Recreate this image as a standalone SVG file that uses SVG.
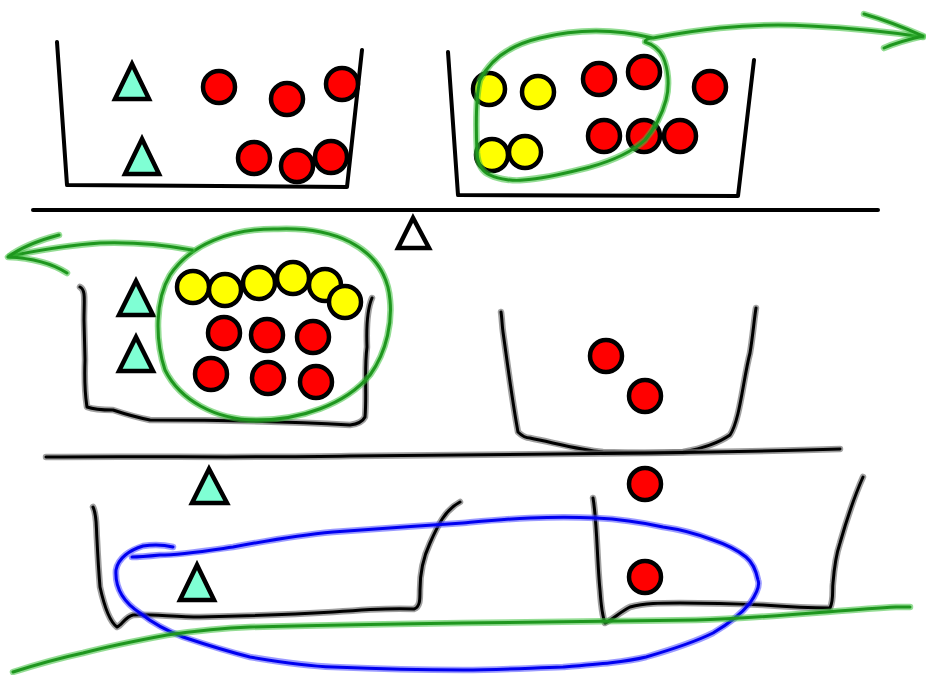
<svg xmlns="http://www.w3.org/2000/svg" width="926" height="675" viewBox="0 0 926 675">
<style>
.bk{fill:none;stroke:#000;stroke-width:4;stroke-linecap:round;stroke-linejoin:round}
.sk{fill:none;stroke:#000;stroke-width:3;stroke-linecap:round;stroke-linejoin:round}
.skh{fill:none;stroke:#777;stroke-opacity:.7;stroke-width:6.5;stroke-linecap:round;stroke-linejoin:round}
.g{fill:none;stroke:#1e961e;stroke-width:3;stroke-linecap:round;stroke-linejoin:round}
.gh{fill:none;stroke:#3cbf3c;stroke-opacity:.55;stroke-width:6.5;stroke-linecap:round;stroke-linejoin:round}
.b{fill:none;stroke:#0000f0;stroke-width:3;stroke-linecap:round;stroke-linejoin:round}
.bh{fill:none;stroke:#4848ff;stroke-opacity:.55;stroke-width:6.5;stroke-linecap:round;stroke-linejoin:round}
.r{fill:#ff0000;stroke:#000;stroke-width:4.5}
.y{fill:#ffff00;stroke:#000;stroke-width:4.5}
.t{fill:#7fffd4;stroke:#000;stroke-width:4.5;stroke-linejoin:miter}
</style>
<g id="bucket-top-left">
<path class="bk" d="M57,42 L67,185 L347,187 L362,50"/>
<polygon class="t" points="132,64 115,99 149,99"/>
<polygon class="t" points="142,139 125,174 159,174"/>
<circle class="r" cx="219" cy="87" r="16"/>
<circle class="r" cx="287" cy="99" r="16"/>
<circle class="r" cx="342" cy="84" r="16"/>
<circle class="r" cx="254" cy="158" r="16"/>
<circle class="r" cx="297" cy="166" r="16"/>
<circle class="r" cx="331" cy="157" r="16"/>
</g>
<g id="bucket-top-right">
<path class="bk" d="M448,52 L458,195 L738,196 L754,60"/>
<circle class="y" cx="489" cy="89" r="16"/>
<circle class="y" cx="538" cy="92" r="16"/>
<circle class="y" cx="492" cy="155" r="16"/>
<circle class="y" cx="525" cy="152" r="16"/>
<circle class="r" cx="599" cy="79" r="16"/>
<circle class="r" cx="644" cy="72" r="16"/>
<circle class="r" cx="710" cy="87" r="16"/>
<circle class="r" cx="604" cy="136" r="16"/>
<circle class="r" cx="644" cy="136" r="16"/>
<circle class="r" cx="680" cy="136" r="16"/>
</g>
<g id="beam-top">
<line class="bk" x1="33" y1="210" x2="878" y2="210"/>
<polygon points="413,218 398,248 429,248" fill="#fff" stroke="#000" stroke-width="4.5"/>
</g>
<g id="bucket-middle-left">
<path class="skh" d="M80,287 C86,290 84,300 84,320 L85,360 C84,390 86,400 87,407 C95,410 105,410 113,410 C125,414 140,418 150,420 C200,420 280,421 350,425 C358,424 363,421 365,417 C367,395 364,370 367,347 C366,320 369,305 372,298"/>
<path class="sk" d="M80,287 C86,290 84,300 84,320 L85,360 C84,390 86,400 87,407 C95,410 105,410 113,410 C125,414 140,418 150,420 C200,420 280,421 350,425 C358,424 363,421 365,417 C367,395 364,370 367,347 C366,320 369,305 372,298"/>
<polygon class="t" points="136,281 119,315 153,315"/>
<polygon class="t" points="136,337 119,371 153,371"/>
<circle class="y" cx="193" cy="287" r="16"/>
<circle class="y" cx="225" cy="290" r="16"/>
<circle class="y" cx="259" cy="283" r="16"/>
<circle class="y" cx="293" cy="278" r="16"/>
<circle class="y" cx="325" cy="285" r="16"/>
<circle class="y" cx="345" cy="302" r="16"/>
<circle class="r" cx="224" cy="333" r="16"/>
<circle class="r" cx="267" cy="335" r="16"/>
<circle class="r" cx="313" cy="337" r="16"/>
<circle class="r" cx="211" cy="374" r="16"/>
<circle class="r" cx="268" cy="378" r="16"/>
<circle class="r" cx="316" cy="382" r="16"/>
</g>
<g id="bucket-middle-right">
<path class="skh" d="M501,312 C502,318 502,325 503,332 C507,360 512,400 518,432 C522,436 526,438 530,438 C555,443 580,450 603,452 C630,453 660,453 683,452 C705,448 720,442 730,435 C740,420 743,380 750,353 C753,335 754,320 756,308"/>
<path class="sk" d="M501,312 C502,318 502,325 503,332 C507,360 512,400 518,432 C522,436 526,438 530,438 C555,443 580,450 603,452 C630,453 660,453 683,452 C705,448 720,442 730,435 C740,420 743,380 750,353 C753,335 754,320 756,308"/>
<circle class="r" cx="606" cy="356" r="16"/>
<circle class="r" cx="645" cy="396" r="16"/>
</g>
<g id="beam-middle">
<path class="skh" d="M46,457 C150,456 250,458 350,456 C450,455 550,454 650,453 C720,452 780,451 840,449"/>
<path class="sk" d="M46,457 C150,456 250,458 350,456 C450,455 550,454 650,453 C720,452 780,451 840,449"/>
<polygon class="t" points="209,469 192,503 227,503"/>
</g>
<g id="bucket-bottom-left">
<path class="skh" d="M93,507 C97,515 96,525 97,540 C98,560 99,575 100,587 C104,605 110,622 117,627 C122,625 125,617 133,615 C150,614 175,617 200,617 C250,616 300,614 333,612 C370,609 395,608 414,609 C420,607 420,600 420,590 C420,575 422,560 430,543 C438,525 445,510 460,502"/>
<path class="sk" d="M93,507 C97,515 96,525 97,540 C98,560 99,575 100,587 C104,605 110,622 117,627 C122,625 125,617 133,615 C150,614 175,617 200,617 C250,616 300,614 333,612 C370,609 395,608 414,609 C420,607 420,600 420,590 C420,575 422,560 430,543 C438,525 445,510 460,502"/>
<polygon class="t" points="197,565 180,600 214,600"/>
</g>
<g id="bucket-bottom-right">
<path class="skh" d="M593,498 C597,520 597,560 600,590 C601,605 602,615 605,623 C612,620 620,612 630,607 C645,603 660,603 680,603 C710,603 740,604 763,605 C790,607 815,608 830,608 C834,600 832,590 833,583 C834,570 836,555 840,543 C848,515 855,495 863,477"/>
<path class="sk" d="M593,498 C597,520 597,560 600,590 C601,605 602,615 605,623 C612,620 620,612 630,607 C645,603 660,603 680,603 C710,603 740,604 763,605 C790,607 815,608 830,608 C834,600 832,590 833,583 C834,570 836,555 840,543 C848,515 855,495 863,477"/>
<circle class="r" cx="645" cy="484" r="16"/>
<circle class="r" cx="645" cy="577" r="16"/>
</g>
<g id="connectors">
<g id="green-loop-top">
<path class="gh" d="M653,38 C620,30 580,28 540,38 C510,45 490,60 480,80 C475,100 476,130 477,153 C478,165 482,172 490,175 C500,180 515,181 523,180 C550,178 570,172 590,167 C615,160 632,152 645,140 C655,128 662,115 666,100 C670,85 668,68 663,57 C660,50 652,44 645,42 C645,40 648,38 653,38 C680,33 700,30 720,28 C750,25 780,24 810,26 C850,28 890,32 923,37"/>
<path class="g" d="M653,38 C620,30 580,28 540,38 C510,45 490,60 480,80 C475,100 476,130 477,153 C478,165 482,172 490,175 C500,180 515,181 523,180 C550,178 570,172 590,167 C615,160 632,152 645,140 C655,128 662,115 666,100 C670,85 668,68 663,57 C660,50 652,44 645,42 C645,40 648,38 653,38 C680,33 700,30 720,28 C750,25 780,24 810,26 C850,28 890,32 923,37"/>
<path class="gh" d="M864,14 C885,20 905,28 923,36 C910,39 895,43 884,48"/>
<path class="g" d="M864,14 C885,20 905,28 923,36 C910,39 895,43 884,48"/>
</g>
<g id="green-loop-middle">
<path class="gh" d="M278,229 C230,228 190,245 170,275 C155,300 155,340 165,370 C180,400 215,420 257,420 C300,420 345,405 370,375 C388,350 392,320 390,300 C388,275 375,255 350,242 C330,232 305,228 278,229 Z"/>
<path class="g" d="M278,229 C230,228 190,245 170,275 C155,300 155,340 165,370 C180,400 215,420 257,420 C300,420 345,405 370,375 C388,350 392,320 390,300 C388,275 375,255 350,242 C330,232 305,228 278,229 Z"/>
<path class="gh" d="M192,250 C160,244 130,242 100,243 C70,245 40,250 10,256"/>
<path class="g" d="M192,250 C160,244 130,242 100,243 C70,245 40,250 10,256"/>
<path class="gh" d="M59,235 C40,240 20,248 8,257 C30,258 50,262 67,273"/>
<path class="g" d="M59,235 C40,240 20,248 8,257 C30,258 50,262 67,273"/>
</g>
<g id="blue-loop">
<path class="bh" d="M173,547 C165,545 155,544 143,546 C130,550 118,558 116,570 C115,585 120,600 140,613 C155,625 170,632 183,637 C210,646 230,652 250,657 C280,662 305,666 333,667 C380,669 420,670 463,670 C500,670 530,668 563,667 C600,664 625,662 646,657 C670,650 695,642 713,633 C730,623 742,613 750,603 C757,593 760,585 758,580 C756,570 752,562 746,557 C735,548 725,544 713,540 C700,535 685,530 663,527 C640,522 620,519 596,518 C575,517 553,517 530,518 C505,519 485,521 463,523 C420,526 375,529 333,532 C300,535 265,541 233,547 C205,551 180,555 160,555 C150,556 140,557 132,557"/>
<path class="b" d="M173,547 C165,545 155,544 143,546 C130,550 118,558 116,570 C115,585 120,600 140,613 C155,625 170,632 183,637 C210,646 230,652 250,657 C280,662 305,666 333,667 C380,669 420,670 463,670 C500,670 530,668 563,667 C600,664 625,662 646,657 C670,650 695,642 713,633 C730,623 742,613 750,603 C757,593 760,585 758,580 C756,570 752,562 746,557 C735,548 725,544 713,540 C700,535 685,530 663,527 C640,522 620,519 596,518 C575,517 553,517 530,518 C505,519 485,521 463,523 C420,526 375,529 333,532 C300,535 265,541 233,547 C205,551 180,555 160,555 C150,556 140,557 132,557"/>
</g>
<g id="green-line-bottom">
<path class="gh" d="M13,672 C35,665 60,658 83,653 C110,646 140,640 167,635 C195,631 225,628 250,627 C320,625 390,624 463,623 C540,622 620,621 696,620 C770,618 840,610 896,607 L910,607"/>
<path class="g" d="M13,672 C35,665 60,658 83,653 C110,646 140,640 167,635 C195,631 225,628 250,627 C320,625 390,624 463,623 C540,622 620,621 696,620 C770,618 840,610 896,607 L910,607"/>
</g>
</g>
</svg>
